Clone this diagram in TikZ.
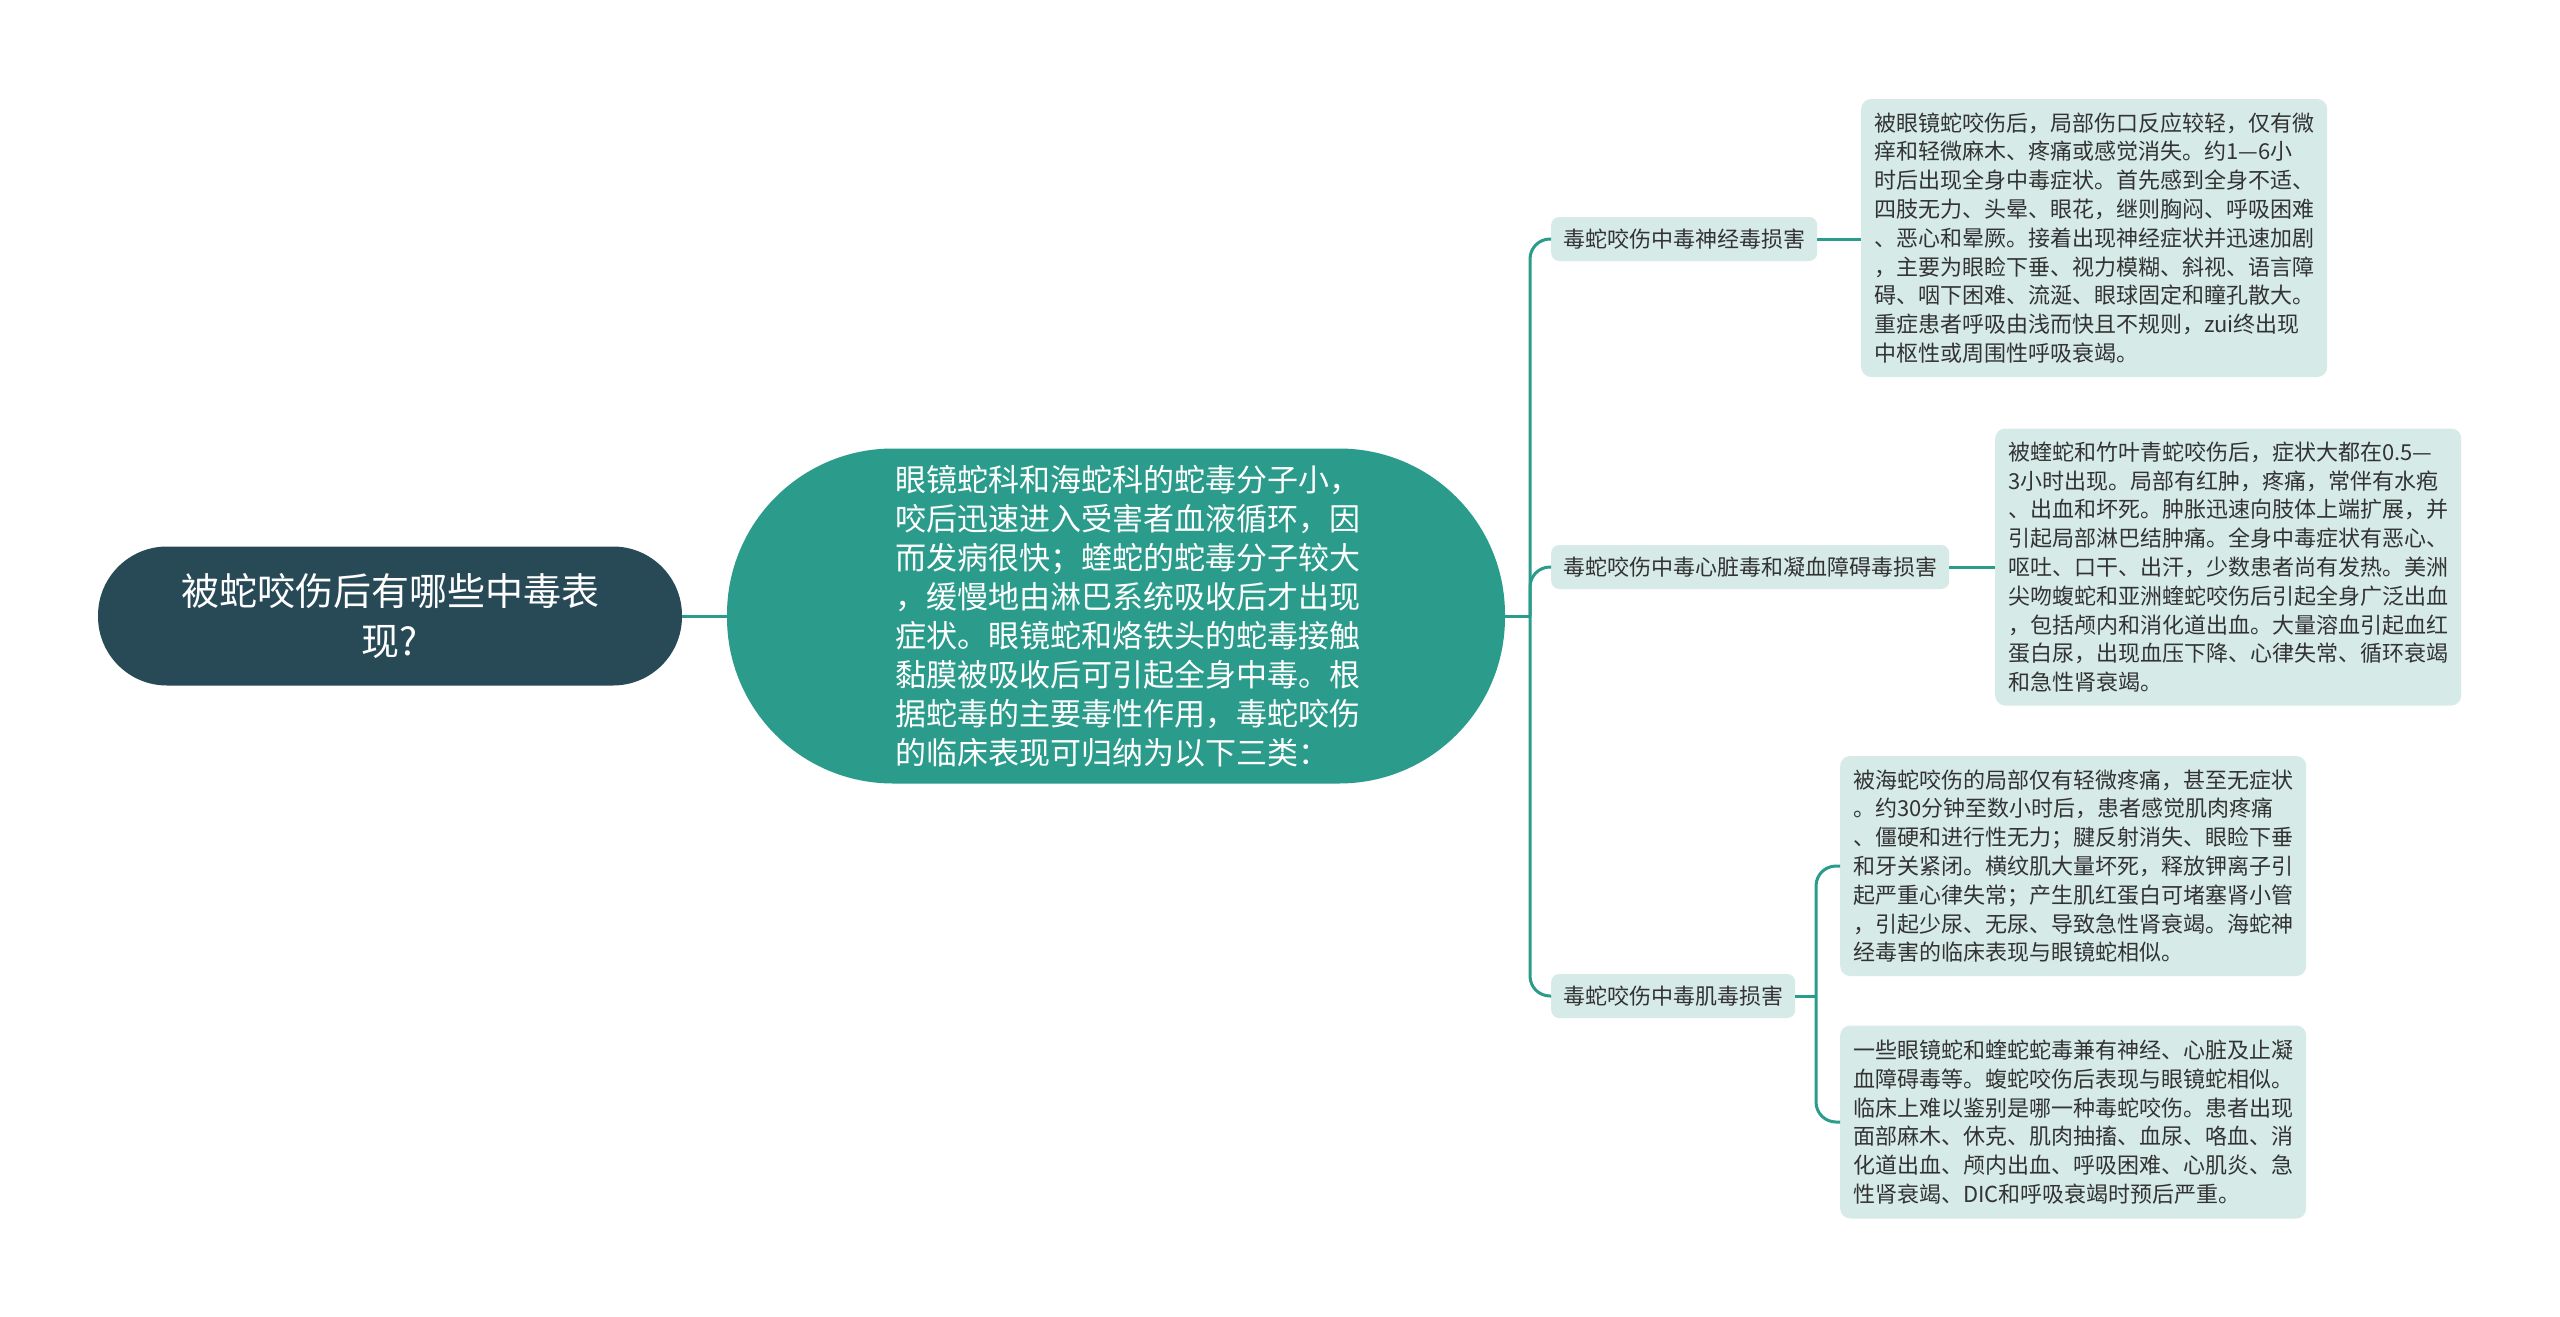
\documentclass[tikz,border=0pt]{standalone}
\usepackage{fontspec}
\setmainfont{Noto Sans CJK SC}
\definecolor{rootfill}{HTML}{284A57}
\definecolor{mainfill}{HTML}{2B9C8B}
\definecolor{leaffill}{HTML}{D6EBE8}
\definecolor{inktext}{HTML}{333333}
\tikzset{
	rootbox/.style={fill=rootfill, text=white, rounded corners=69pt, minimum width=584pt, minimum height=139pt, align=center, font=\fontsize{38}{50}\selectfont},
	mainbox/.style={fill=mainfill, text=white, rounded corners=166pt, minimum width=778pt, minimum height=335pt, font=\fontsize{31}{39}\selectfont},
	topicbox/.style={fill=leaffill, text=inktext, rounded corners=8pt, inner xsep=12pt, minimum height=44pt, font=\fontsize{22}{28.8}\selectfont},
	notebox/.style={fill=leaffill, text=inktext, rounded corners=10pt, minimum width=466pt, align=left, font=\fontsize{22}{28.8}\selectfont},
	link/.style={draw=mainfill, line width=3pt, rounded corners=20pt},
}
\begin{document}
\begin{tikzpicture}[x=1pt,y=-1pt]
	\fill[white] (0,0) rectangle (2560,1317);
	\useasboundingbox (0,0) rectangle (2560,1317);

	\node[rootbox] (root) at (390,616) {被蛇咬伤后有哪些中毒表\\现?};
	\node[mainbox] (main) at (1116,616) {\hspace*{24pt}\parbox{465pt}{\raggedright 眼镜蛇科和海蛇科的蛇毒分子小，\\咬后迅速进入受害者血液循环，因\\而发病很快；蝰蛇的蛇毒分子较大\\，缓慢地由淋巴系统吸收后才出现\\症状。眼镜蛇和烙铁头的蛇毒接触\\黏膜被吸收后可引起全身中毒。根\\据蛇毒的主要毒性作用，毒蛇咬伤\\的临床表现可归纳为以下三类：}};

	% three kinds
	\node[topicbox, anchor=west] (neuro) at (1551,239) {毒蛇咬伤中毒神经毒损害};
	\node[topicbox, anchor=west] (cardio) at (1551,567) {毒蛇咬伤中毒心脏毒和凝血障碍毒损害};
	\node[topicbox, anchor=west] (myo) at (1551,996) {毒蛇咬伤中毒肌毒损害};

	\node[notebox, anchor=west, minimum height=278pt] (neuronote) at (1861,238) {被眼镜蛇咬伤后，局部伤口反应较轻，仅有微\\痒和轻微麻木、疼痛或感觉消失。约1—6小\\时后出现全身中毒症状。首先感到全身不适、\\四肢无力、头晕、眼花，继则胸闷、呼吸困难\\、恶心和晕厥。接着出现神经症状并迅速加剧\\，主要为眼睑下垂、视力模糊、斜视、语言障\\碍、咽下困难、流涎、眼球固定和瞳孔散大。\\重症患者呼吸由浅而快且不规则，zui终出现\\中枢性或周围性呼吸衰竭。};
	\node[notebox, anchor=west, minimum height=277pt] (cardionote) at (1995,567) {被蝰蛇和竹叶青蛇咬伤后，症状大都在0.5—\\3小时出现。局部有红肿，疼痛，常伴有水疱\\、出血和坏死。肿胀迅速向肢体上端扩展，并\\引起局部淋巴结肿痛。全身中毒症状有恶心、\\呕吐、口干、出汗，少数患者尚有发热。美洲\\尖吻蝮蛇和亚洲蝰蛇咬伤后引起全身广泛出血\\，包括颅内和消化道出血。大量溶血引起血红\\蛋白尿，出现血压下降、心律失常、循环衰竭\\和急性肾衰竭。};
	\node[notebox, anchor=west, minimum height=220pt] (myonote) at (1840,866) {被海蛇咬伤的局部仅有轻微疼痛，甚至无症状\\。约30分钟至数小时后，患者感觉肌肉疼痛\\、僵硬和进行性无力；腱反射消失、眼睑下垂\\和牙关紧闭。横纹肌大量坏死，释放钾离子引\\起严重心律失常；产生肌红蛋白可堵塞肾小管\\，引起少尿、无尿、导致急性肾衰竭。海蛇神\\经毒害的临床表现与眼镜蛇相似。};
	\node[notebox, anchor=west, minimum height=193pt] (mixnote) at (1840,1122) {一些眼镜蛇和蝰蛇蛇毒兼有神经、心脏及止凝\\血障碍毒等。蝮蛇咬伤后表现与眼镜蛇相似。\\临床上难以鉴别是哪一种毒蛇咬伤。患者出现\\面部麻木、休克、肌肉抽搐、血尿、咯血、消\\化道出血、颅内出血、呼吸困难、心肌炎、急\\性肾衰竭、DIC和呼吸衰竭时预后严重。};

	% connectors
	\coordinate (fork) at (1530,616);
	\coordinate (myofork) at (1816,996);
	\draw[link] (root.east) -- (main.west);
	\draw[link] (main.east) -- (fork);
	\draw[link] (fork) |- (neuro.west);
	\draw[link] (fork) |- (cardio.west);
	\draw[link] (fork) |- (myo.west);
	\draw[link] (neuro.east) -- (neuro.east -| neuronote.west);
	\draw[link] (cardio.east) -- (cardio.east -| cardionote.west);
	\draw[link] (myo.east) -- (myofork);
	\draw[link] (myofork) |- (myonote.west);
	\draw[link] (myofork) |- (mixnote.west);
\end{tikzpicture}
\end{document}
